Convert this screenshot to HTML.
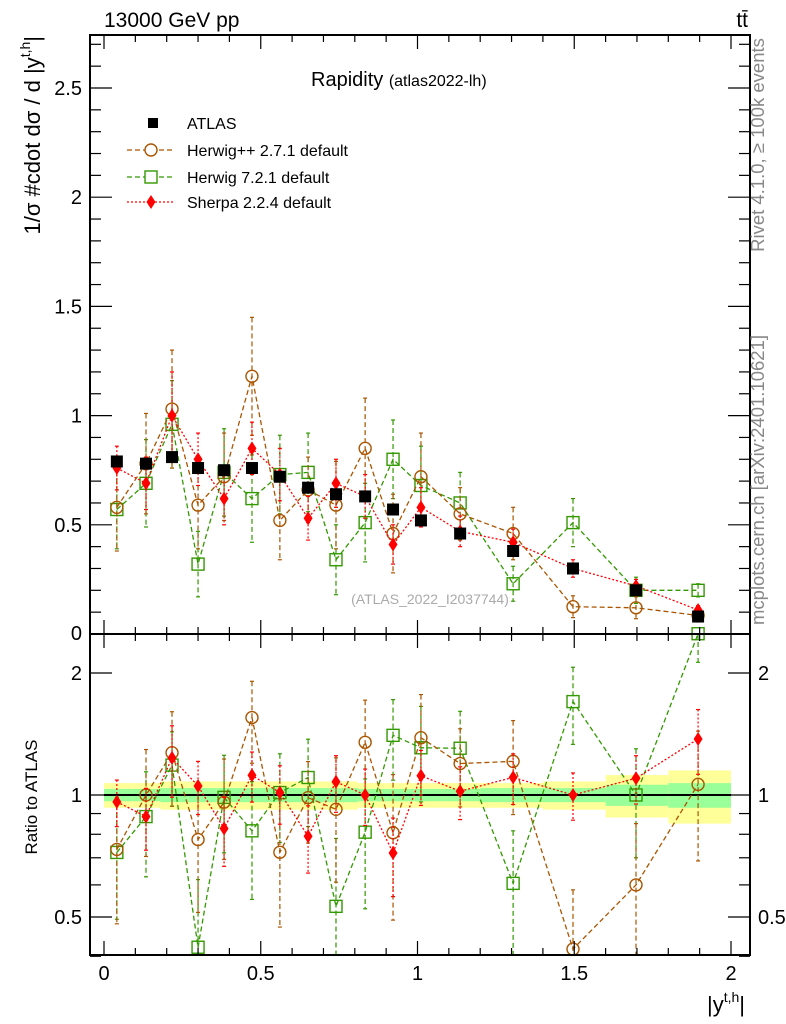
<!DOCTYPE html>
<html><head><meta charset="utf-8">
<style>
html,body{margin:0;padding:0;background:#fff;}
svg{display:block;font-family:"Liberation Sans",sans-serif;}
</style></head>
<body>
<svg id="chart" width="786" height="1024" viewBox="0 0 786 1024"></svg>
<script>
const xCenters=[0.041,0.134,0.217,0.30,0.383,0.472,0.561,0.651,0.74,0.833,0.922,1.011,1.136,1.305,1.496,1.697,1.895];
const binEdges=[0,0.09,0.18,0.27,0.36,0.45,0.54,0.63,0.72,0.81,0.90,0.99,1.08,1.2,1.4,1.6,1.8,2.0];
const atlasVals=[0.79,0.78,0.81,0.76,0.75,0.76,0.72,0.67,0.64,0.63,0.57,0.52,0.46,0.38,0.30,0.20,0.08];
const atlasErr=[0.015,0.015,0.015,0.015,0.015,0.015,0.015,0.015,0.015,0.015,0.012,0.012,0.012,0.012,0.01,0.01,0.01];
const statBand=[0.035,0.035,0.04,0.04,0.04,0.04,0.04,0.04,0.04,0.035,0.035,0.035,0.035,0.04,0.04,0.06,0.07];
const totBand=[0.07,0.07,0.08,0.08,0.08,0.08,0.08,0.08,0.08,0.07,0.07,0.07,0.07,0.07,0.08,0.12,0.15];
const hppVals=[0.58,0.78,1.03,0.59,0.72,1.18,0.52,0.66,0.59,0.85,0.46,0.72,0.55,0.46,0.125,0.12,0.085];
const hppErr=[0.2,0.23,0.27,0.2,0.2,0.27,0.18,0.15,0.2,0.23,0.18,0.2,0.12,0.12,0.05,0.05,0.03];
const h7Vals=[0.57,0.69,0.96,0.32,0.74,0.62,0.73,0.74,0.34,0.51,0.80,0.68,0.60,0.23,0.51,0.20,0.20];
const h7Err=[0.18,0.2,0.2,0.15,0.2,0.2,0.18,0.18,0.16,0.18,0.18,0.18,0.14,0.08,0.11,0.06,0.03];
const shVals=[0.76,0.69,1.0,0.80,0.62,0.85,0.73,0.53,0.69,0.63,0.41,0.58,0.47,0.42,0.30,0.22,0.11];
const shErr=[0.1,0.12,0.2,0.12,0.12,0.12,0.12,0.1,0.11,0.1,0.09,0.09,0.07,0.06,0.04,0.03,0.02];

const NS="http://www.w3.org/2000/svg";
const svg=document.getElementById('chart');
const L=90,R=750,T1=35,B1=634,T2=634,B2=955;
const X=v=>104+v*313.5;
const Y1=v=>634-v*218.4;
const Y2=v=>795-Math.log2(v)*122;
const clampY2=y=>Math.max(T2,Math.min(B2,y));
const clampY1=y=>Math.max(T1,Math.min(B1,y));
function el(tag,attrs,parent){const e=document.createElementNS(NS,tag);for(const k in attrs)e.setAttribute(k,attrs[k]);(parent||svg).appendChild(e);return e;}
function txt(s,attrs,parent){const e=el('text',attrs,parent);e.textContent=s;return e;}

const band=el('g',{});


for(let i=0;i<xCenters.length;i++){
  const x0=X(binEdges[i]),x1=X(binEdges[i+1]);
  const r=el('rect',{x:x0,y:Y2(1+totBand[i]),width:x1-x0,height:Y2(1-totBand[i])-Y2(1+totBand[i]),fill:'#ffff99'},band);
  
  
  const g=el('rect',{x:x0,y:Y2(1+statBand[i]),width:x1-x0,height:Y2(1-statBand[i])-Y2(1+statBand[i]),fill:'#99ff99'},band);
  
  
}
el('line',{x1:X(0),x2:X(2),y1:795,y2:795,stroke:'#000','stroke-width':2},band);

function marker(g,type,x,y,color){
  if(type==='sq')return el('rect',{x:x-6,y:y-6,width:12,height:12,fill:'#000'},g);
  if(type==='circ')return el('circle',{cx:x,cy:y,r:6,fill:'none',stroke:color,'stroke-width':1.4},g);
  if(type==='osq')return el('rect',{x:x-6,y:y-6,width:12,height:12,fill:'none',stroke:color,'stroke-width':1.4},g);
  if(type==='dia')return el('path',{d:`M${x} ${y-7}L${x+4.5} ${y}L${x} ${y+7}L${x-4.5} ${y}Z`,fill:color},g);
}
function series(name,vals,errs,color,type,dash,ratio){
  const g=el('g',{});
  
  
  const Yf=ratio?(v=>Y2(Math.max(v,0.001))):Y1;
  const cl=ratio?clampY2:clampY1;
  const pts=[];
  for(let i=0;i<vals.length;i++){
    const v=ratio?vals[i]/atlasVals[i]:vals[i];
    const e=ratio?errs[i]/atlasVals[i]:errs[i];
    const x=X(xCenters[i]);
    const y=Yf(v);
    pts.push([x,y]);
    const yt=cl(Yf(v+e)),yb=cl(Yf(Math.max(v-e,0.001)));
    el('line',{x1:x,x2:x,y1:yt,y2:yb,stroke:color,'stroke-width':1.2,'stroke-dasharray':type==='sq'?'':(dash||'')},g);
    if(type!=='sq'){
      el('line',{x1:x-2,x2:x+2,y1:yt,y2:yt,stroke:color,'stroke-width':1.2},g);
      el('line',{x1:x-2,x2:x+2,y1:yb,y2:yb,stroke:color,'stroke-width':1.2},g);
    }
  }
  if(type!=='sq'){
    const cp=el('clipPath',{id:name+(ratio?'r':'m')});
    el('rect',{x:L,y:ratio?T2:T1,width:R-L,height:(ratio?B2-T2:B1-T1)},cp);
    el('polyline',{points:pts.map(p=>p.join(',')).join(' '),fill:'none',stroke:color,'stroke-width':1.3,'stroke-dasharray':dash,'clip-path':`url(#${name+(ratio?'r':'m')})`},g);
  }
  pts.forEach(p=>{if(p[1]>=(ratio?T2:T1)-3&&p[1]<=(ratio?B2:B1)+3){const m=marker(g,type,p[0],p[1],color);}});
}
series('herwig7',h7Vals,h7Err,'#339900','osq','5,3',false);
series('herwigpp',hppVals,hppErr,'#aa5500','circ','5,3',false);
series('sherpa',shVals,shErr,'#ff0000','dia','2,2',false);
series('atlas',atlasVals,atlasErr,'#000','sq','',false);
series('herwig7',h7Vals,h7Err,'#339900','osq','5,3',true);
series('herwigpp',hppVals,hppErr,'#aa5500','circ','5,3',true);
series('sherpa',shVals,shErr,'#ff0000','dia','2,2',true);

const f1=el('rect',{x:L,y:T1,width:R-L,height:B1-T1,fill:'none',stroke:'#000','stroke-width':2});

const f2=el('rect',{x:L,y:T2,width:R-L,height:B2-T2,fill:'none',stroke:'#000','stroke-width':2});


const ax=el('g',{stroke:'#000','stroke-width':1.2});

for(let i=0;i<=20;i++){
  const v=i/10,x=X(v),maj=i%5===0,len=maj?14:7;
  [[T1,1],[B1,-1],[T2,1],[B2,-1]].forEach(([y,d])=>el('line',{x1:x,x2:x,y1:y,y2:y+d*len},ax));
}
const xLabels=['0','0.5','1','1.5','2'];
xLabels.forEach((s,i)=>{const t=txt(s,{x:X(i*0.5),y:980,'font-size':20,'text-anchor':'middle'});});
const ay=el('g',{stroke:'#000','stroke-width':1.2});

for(let i=0;i<=27;i++){const v=i/10,y=Y1(v);if(y<T1)continue;const len=i%5===0?22:11;
  el('line',{x1:L,x2:L+len,y1:y,y2:y},ay);el('line',{x1:R,x2:R-len,y1:y,y2:y},ay);}
const yLabels=['0','0.5','1','1.5','2','2.5'];
yLabels.forEach((s,i)=>{const t=txt(s,{x:82,y:i===0?640:Y1(i*0.5)+7,'font-size':20,'text-anchor':'end'});});
const ry=el('g',{stroke:'#000','stroke-width':1.2});

[0.4,0.5,0.6,0.7,0.8,0.9,1,2].forEach(v=>{const y=Y2(v);const len=(v===0.5||v===1||v===2)?22:11;
  el('line',{x1:L,x2:L+len,y1:y,y2:y},ry);el('line',{x1:R,x2:R-len,y1:y,y2:y},ry);});
const rLabels=['0.5','1','2'];
rLabels.forEach(s=>{const v=parseFloat(s);
  let t=txt(s,{x:82,y:Y2(v)+7,'font-size':20,'text-anchor':'end'});
  t=txt(s,{x:758,y:Y2(v)+7,'font-size':20});});
</script>
<script>
const s2=document.getElementById('chart');
s2.insertAdjacentHTML('beforeend',`
<text x="104" y="27" font-size="21">13000 GeV pp</text>
<text x="748" y="27" font-size="21" text-anchor="end">tt̄</text>
<text x="311" y="86" font-size="20">Rapidity <tspan font-size="16">(atlas2022-lh)</tspan></text>
<g font-size="16">
 <rect x="148" y="118" width="10" height="10" fill="#000"/>
 <text x="187" y="129">ATLAS</text>
 <line x1="127" x2="175" y1="150" y2="150" stroke="#aa5500" stroke-dasharray="5,3" stroke-width="1.3"/>
 <circle cx="151" cy="150" r="6" fill="#fff" stroke="#aa5500" stroke-width="1.4"/>
 <text x="187" y="156">Herwig++ 2.7.1 default</text>
 <line x1="127" x2="175" y1="177" y2="177" stroke="#339900" stroke-dasharray="5,3" stroke-width="1.3"/>
 <rect x="145" y="171" width="12" height="12" fill="#fff" stroke="#339900" stroke-width="1.4"/>
 <text x="187" y="183">Herwig 7.2.1 default</text>
 <line x1="127" x2="175" y1="202" y2="202" stroke="#ff0000" stroke-dasharray="2,2" stroke-width="1.3"/>
 <path d="M151 195L155.5 202L151 209L146.5 202Z" fill="#ff0000"/>
 <text x="187" y="208">Sherpa 2.2.4 default</text>
</g>
<text x="430" y="604" font-size="14" fill="#aaaaaa" text-anchor="middle">(ATLAS_2022_I2037744)</text>
<text transform="translate(40,36) rotate(-90)" font-size="22" text-anchor="end">1/σ #cdot dσ / d |y<tspan font-size="14" dy="-10">t,h</tspan><tspan dy="10">|</tspan></text>
<text transform="translate(37,797) rotate(-90)" font-size="17" text-anchor="middle">Ratio to ATLAS</text>
<text x="745" y="1012" font-size="22" text-anchor="end">|y<tspan font-size="14" dy="-10">t,h</tspan><tspan dy="10">|</tspan></text>
<text transform="translate(764,145) rotate(-90)" font-size="18.5" fill="#888" text-anchor="middle">Rivet 4.1.0, ≥ 100k events</text>
<text transform="translate(764,480) rotate(-90)" font-size="18.5" fill="#888" text-anchor="middle">mcplots.cern.ch [arXiv:2401.10621]</text>
`);
</script>
</body></html>
